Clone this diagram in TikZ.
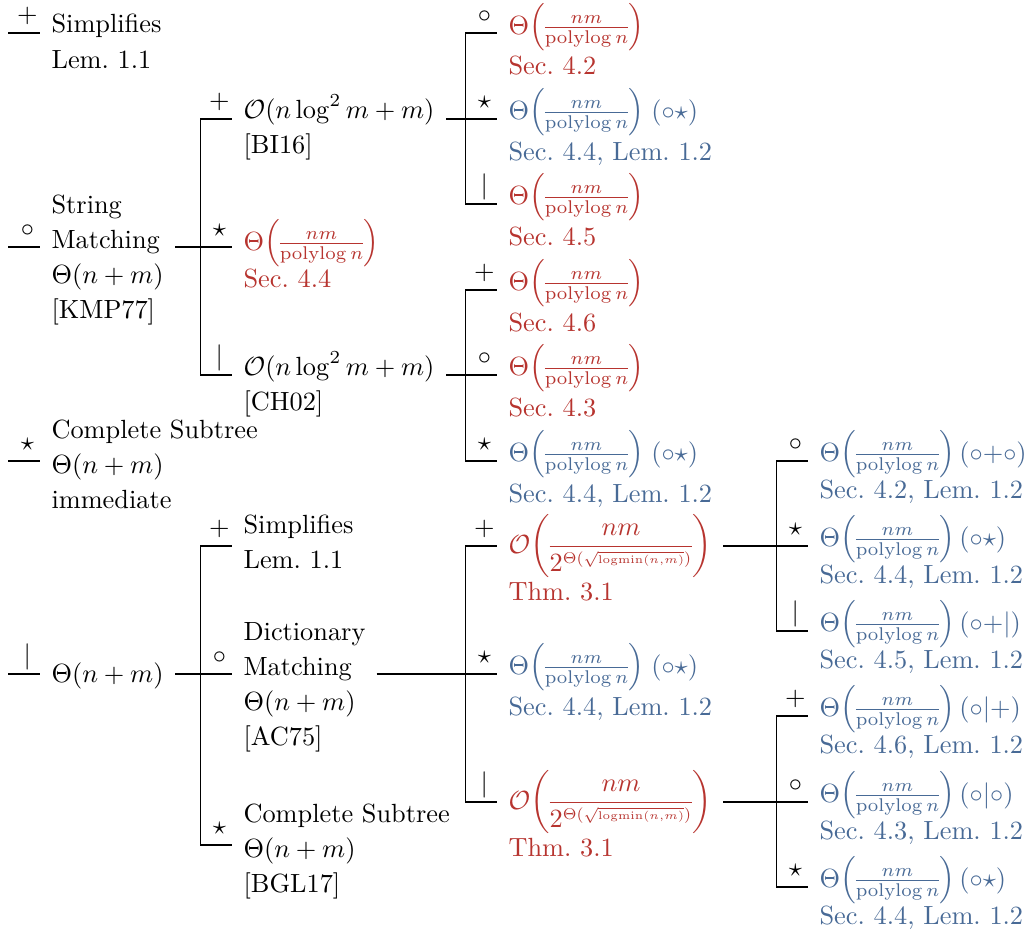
\documentclass[tikz,border=0pt]{standalone}
\usepackage{amsmath, amssymb}
\usepackage{graphicx}
\usepackage{tikz}

\definecolor{resred}{RGB}{183,52,47}
\definecolor{resblue}{RGB}{72,106,150}
\setlength{\nulldelimiterspace}{0pt}
\newcommand{\plfrac}{\Theta{\left(\frac{nm}{\operatorname{polylog} n}\right)}}
\newcommand{\subexpfrac}{\mathcal{O}\biggl(\dfrac{nm}{2^{\scalebox{0.85}{$\scriptstyle\Theta{\left(\sqrt{\scriptscriptstyle\log\!\min(n,m)}\right)}$}}}\biggr)}
\newcommand{\itemtext}[1]{\begin{tabular}[t]{@{}l@{}}#1\end{tabular}}

\begin{document}
\begin{tikzpicture}[x=0.38pt,y=-0.38pt]
	\tikzstyle{item}=[anchor=base west, inner xsep=4.2pt, inner ysep=0pt, font=\fontsize{10}{13.4}\selectfont]
	\tikzstyle{reditem}=[item, text=resred]
	\tikzstyle{blueitem}=[item, text=resblue]
	\tikzstyle{sym}=[anchor=base, inner sep=0pt, xshift=-4.8pt, yshift=4pt]
	\tikzstyle{branch}=[line width=0.5pt]
	\useasboundingbox (0,0) rectangle (1029,933);

	% first level
	\coordinate (simp-in) at (40,33);
	\coordinate (str-in) at (40,247);
	\coordinate (cst-in) at (40,461);
	\coordinate (bar-in) at (40,674);
	\node[item] (simp) at (40,33) {\itemtext{Simplifies\\Lem.~1.1}};
	\node[item] (str) at (40,213) {\itemtext{String\\Matching\\$\Theta(n+m)$\\{[KMP77]}}};
	\node[item] (cst) at (40,438) {\itemtext{Complete Subtree\\$\Theta(n+m)$\\immediate}};
	\node[item] (bar) at (40,682) {$\Theta(n+m)$};

	% second level
	\coordinate (bi16-in) at (232,119);
	\coordinate (str44-in) at (232,247);
	\coordinate (ch02-in) at (232,375);
	\coordinate (simp2-in) at (232,546);
	\coordinate (dm-in) at (232,674);
	\coordinate (bgl-in) at (232,845);
	\node[item] (bi16) at (232,118) {\itemtext{$\mathcal{O}(n\log^2 m+m)$\\{[BI16]}}};
	\node[reditem] (str44) at (232,250) {\itemtext{$\plfrac$\\[-1.8pt]Sec.~4.4}};
	\node[item] (ch02) at (232,375) {\itemtext{$\mathcal{O}(n\log^2 m+m)$\\{[CH02]}}};
	\node[item] (simp2) at (232,533) {\itemtext{Simplifies\\Lem.~1.1}};
	\node[item] (dm) at (232,640) {\itemtext{Dictionary\\Matching\\$\Theta(n+m)$\\{[AC75]}}};
	\node[item] (bgl) at (232,822) {\itemtext{Complete Subtree\\$\Theta(n+m)$\\{[BGL17]}}};

	% third level
	\coordinate (s42-in) at (497,33);
	\coordinate (s44a-in) at (497,119);
	\coordinate (s45-in) at (497,204);
	\coordinate (s46-in) at (497,290);
	\coordinate (s43-in) at (497,375);
	\coordinate (s44b-in) at (497,461);
	\coordinate (thmA-in) at (497,546);
	\coordinate (s44c-in) at (497,674);
	\coordinate (thmB-in) at (497,802);
	\node[reditem] (s42) at (497,34) {\itemtext{$\plfrac$\\[-0.4pt]Sec.~4.2}};
	\node[blueitem] (s44a) at (497,119) {\itemtext{$\plfrac\;(\circ\star)$\\Sec.~4.4, Lem.~1.2}};
	\node[reditem] (s45) at (497,204) {\itemtext{$\plfrac$\\Sec.~4.5}};
	\node[reditem] (s46) at (497,290) {\itemtext{$\plfrac$\\Sec.~4.6}};
	\node[reditem] (s43) at (497,375) {\itemtext{$\plfrac$\\Sec.~4.3}};
	\node[blueitem] (s44b) at (497,461) {\itemtext{$\plfrac\;(\circ\star)$\\Sec.~4.4, Lem.~1.2}};
	\node[reditem] (thmA) at (497,553) {\itemtext{$\subexpfrac$\\[-1pt]Thm.~3.1}};
	\node[blueitem] (s44c) at (497,674) {\itemtext{$\plfrac\;(\circ\star)$\\Sec.~4.4, Lem.~1.2}};
	\node[reditem] (thmB) at (497,809) {\itemtext{$\subexpfrac$\\[-1pt]Thm.~3.1}};

	% fourth level
	\coordinate (d42-in) at (808,461);
	\coordinate (d44a-in) at (808,546);
	\coordinate (d45-in) at (808,631);
	\coordinate (d46-in) at (808,716);
	\coordinate (d43-in) at (808,802);
	\coordinate (d44b-in) at (808,887);
	\node[blueitem] (d42) at (808,461) {\itemtext{$\plfrac\,(\circ{+}\circ)$\\[-1.8pt]Sec.~4.2, Lem.~1.2}};
	\node[blueitem] (d44a) at (808,546) {\itemtext{$\plfrac\,(\circ\star)$\\[-1.8pt]Sec.~4.4, Lem.~1.2}};
	\node[blueitem] (d45) at (808,631) {\itemtext{$\plfrac\,(\circ{+}|)$\\[-1.8pt]Sec.~4.5, Lem.~1.2}};
	\node[blueitem] (d46) at (808,716) {\itemtext{$\plfrac\,(\circ|{+})$\\[-1.8pt]Sec.~4.6, Lem.~1.2}};
	\node[blueitem] (d43) at (808,802) {\itemtext{$\plfrac\,(\circ|\circ)$\\[-1.8pt]Sec.~4.3, Lem.~1.2}};
	\node[blueitem] (d44b) at (808,887) {\itemtext{$\plfrac\,(\circ\star)$\\[-1.8pt]Sec.~4.4, Lem.~1.2}};

	% branches
	\foreach \c in {simp,str,cst,bar}
		\draw[branch] ([xshift=-12pt]\c-in) -- (\c-in);
	\foreach \c in {bi16,str44,ch02}
		\draw[branch] (str.east |- str-in) -| ([xshift=-12pt]\c-in) -- (\c-in);
	\foreach \c in {s42,s44a,s45}
		\draw[branch] (bi16.east |- bi16-in) -| ([xshift=-12pt]\c-in) -- (\c-in);
	\foreach \c in {s46,s43,s44b}
		\draw[branch] (ch02.east |- ch02-in) -| ([xshift=-12pt]\c-in) -- (\c-in);
	\foreach \c in {simp2,dm,bgl}
		\draw[branch] (bar.east |- bar-in) -| ([xshift=-12pt]\c-in) -- (\c-in);
	\foreach \c in {thmA,s44c,thmB}
		\draw[branch] (dm.east |- dm-in) -| ([xshift=-12pt]\c-in) -- (\c-in);
	\foreach \c in {d42,d44a,d45}
		\draw[branch] (thmA.east |- thmA-in) -| ([xshift=-12pt]\c-in) -- (\c-in);
	\foreach \c in {d46,d43,d44b}
		\draw[branch] (thmB.east |- thmB-in) -| ([xshift=-12pt]\c-in) -- (\c-in);

	% branch symbols
	\node[sym] (simp-s) at (simp-in) {$+$};
	\node[sym] (str-s) at (str-in) {$\circ$};
	\node[sym] (cst-s) at (cst-in) {$\star$};
	\node[sym] (bar-s) at (bar-in) {$|$};
	\node[sym] (bi16-s) at (bi16-in) {$+$};
	\node[sym] (str44-s) at (str44-in) {$\star$};
	\node[sym] (ch02-s) at (ch02-in) {$|$};
	\node[sym] (simp2-s) at (simp2-in) {$+$};
	\node[sym] (dm-s) at (dm-in) {$\circ$};
	\node[sym] (bgl-s) at (bgl-in) {$\star$};
	\node[sym] (s42-s) at (s42-in) {$\circ$};
	\node[sym] (s44a-s) at (s44a-in) {$\star$};
	\node[sym] (s45-s) at (s45-in) {$|$};
	\node[sym] (s46-s) at (s46-in) {$+$};
	\node[sym] (s43-s) at (s43-in) {$\circ$};
	\node[sym] (s44b-s) at (s44b-in) {$\star$};
	\node[sym] (thmA-s) at (thmA-in) {$+$};
	\node[sym] (s44c-s) at (s44c-in) {$\star$};
	\node[sym] (thmB-s) at (thmB-in) {$|$};
	\node[sym] (d42-s) at (d42-in) {$\circ$};
	\node[sym] (d44a-s) at (d44a-in) {$\star$};
	\node[sym] (d45-s) at (d45-in) {$|$};
	\node[sym] (d46-s) at (d46-in) {$+$};
	\node[sym] (d43-s) at (d43-in) {$\circ$};
	\node[sym] (d44b-s) at (d44b-in) {$\star$};
\end{tikzpicture}
\end{document}
